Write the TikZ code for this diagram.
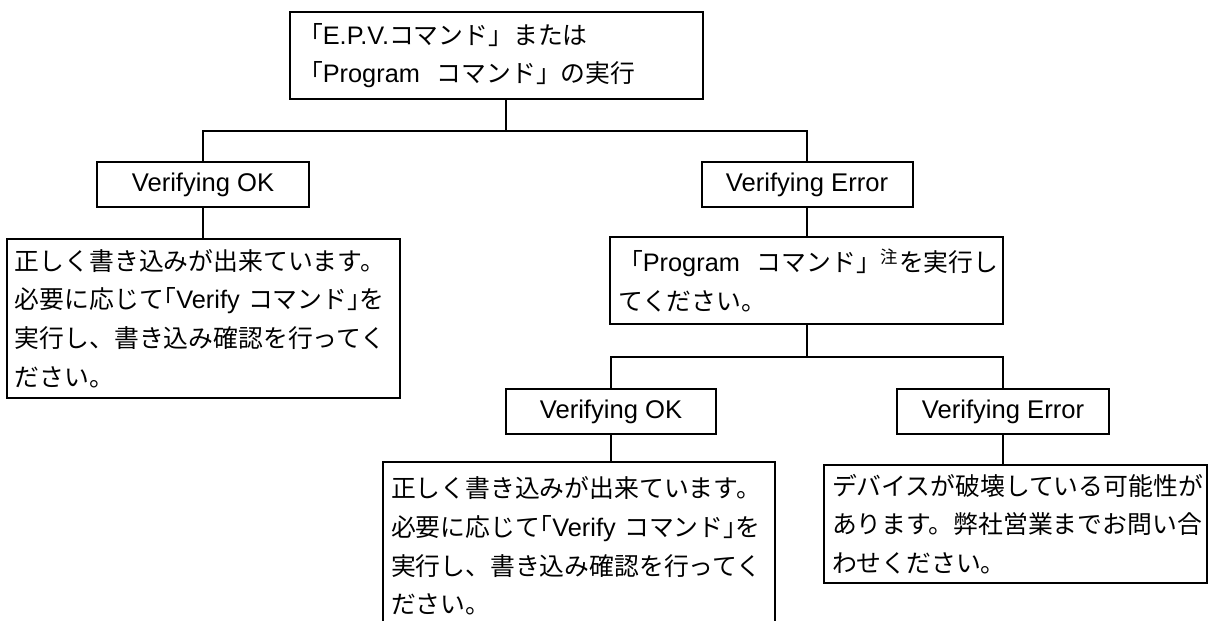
\documentclass[tikz,border=0pt]{standalone}
\usepackage{fontspec}
\setmainfont{Liberation Sans}
\newfontfamily\jpf[Scale=0.98]{Noto Sans CJK JP}
\newfontfamily\jph[Scale=0.98,RawFeature=+halt]{Noto Sans CJK JP}
\newcommand\jt[1]{{\jpf #1}}
\newcommand\jh[1]{{\jph #1}}
\tikzset{
  bx/.style={draw, rectangle, line width=1.5pt, inner ysep=0pt},
  lbl/.style={bx, font=\fontsize{19.2}{22}\selectfont, inner xsep=0pt},
  para/.style={bx, align=left, inner xsep=6pt, font=\fontsize{19}{29}\selectfont},
  wire/.style={line width=1.5pt},
}
\begin{document}
\begin{tikzpicture}[x=0.75pt, y=-0.75pt]
\useasboundingbox (0,0) rectangle (1208,621);
% top
\node[para, minimum width=309.75pt, minimum height=65.25pt, text width=297.75pt] (top) at (496.5,55.5)
  {\jt{「}E.P.V.\jt{コマンド」または}\\\jt{「}Program~~\jt{コマンド」の実行}};
\coordinate (j0) at (506,131);
% level 1
\node[lbl, minimum width=159pt, minimum height=33.75pt] (ok1) at (203,184.5) {Verifying OK};
\node[lbl, minimum width=158.25pt, minimum height=33.75pt] (err1) at (807,184.5) {Verifying Error};
\node[para, minimum width=294.75pt, minimum height=119.25pt, text width=282.75pt] (res1) at (203.5,318.5)
  {\jt{正しく書き込みが出来ています。}\\\jt{必要に応じて}\jh{「}Verify~\jt{コマンド}\jh{」}\jt{を}\\\jt{実行し、書き込み確認を行ってく}\\\jt{ださい。}};
\node[para, minimum width=294.75pt, minimum height=65.25pt, text width=282.75pt] (prog) at (806.5,280.5)
  {\jt{「}Program~~\jt{コマンド」}\textsuperscript{\jt{注}}\jt{を実行し}\\\jt{てください。}};
\coordinate (j1) at (807,357);
% level 2
\node[lbl, minimum width=157.5pt, minimum height=33.75pt] (ok2) at (611,411.5) {Verifying OK};
\node[lbl, minimum width=159pt, minimum height=33.75pt] (err2) at (1003,411.5) {Verifying Error};
\node[para, minimum width=294pt, minimum height=126pt, text width=282pt] (res2) at (579,546)
  {\jt{正しく書き込みが出来ています。}\\\jt{必要に応じて}\jh{「}Verify~\jt{コマンド}\jh{」}\jt{を}\\\jt{実行し、書き込み確認を行ってく}\\\jt{ださい。}};
\node[para, minimum width=287.25pt, minimum height=88.5pt, text width=275.25pt] (res3) at (1015.5,524)
  {\jt{デバイスが破壊している可能性が}\\\jt{あります。弊社営業までお問い合}\\\jt{わせください。}};
% connectors
\draw[wire] (top.south -| j0) -- (j0);
\draw[wire] (ok1.north) -- (ok1.north |- j0) -- (err1.north |- j0) -- (err1.north);
\draw[wire] (ok1.south) -- (ok1.south |- res1.north);
\draw[wire] (err1.south) -- (err1.south |- prog.north);
\draw[wire] (prog.south -| j1) -- (j1);
\draw[wire] (ok2.north) -- (ok2.north |- j1) -- (err2.north |- j1) -- (err2.north);
\draw[wire] (ok2.south) -- (ok2.south |- res2.north);
\draw[wire] (err2.south) -- (err2.south |- res3.north);
\end{tikzpicture}
\end{document}
